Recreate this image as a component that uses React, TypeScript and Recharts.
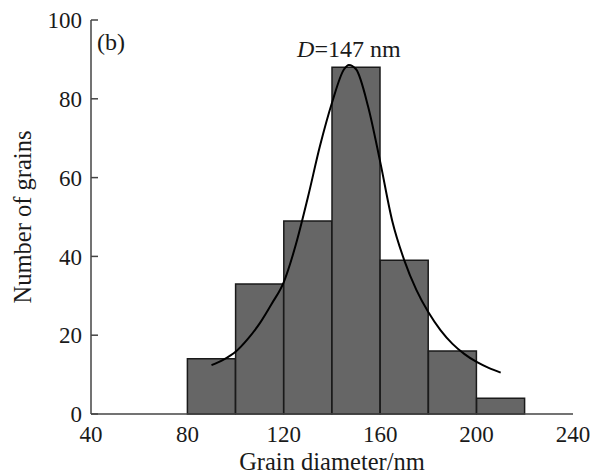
import React from 'react';
import {
  ComposedChart,
  Bar,
  Line,
  XAxis,
  YAxis,
  ReferenceDot,
} from 'recharts';

// histogram bins (centre of each 20 nm bin) and counts
const binCenters = [90, 110, 130, 150, 170, 190, 210];
const binCounts = [14, 33, 49, 88, 39, 16, 4];

// fitted distribution curve
const fitX = [90, 95, 100, 105, 110, 115, 120, 125, 130, 135, 140, 145, 147, 150, 155, 160, 165, 170, 175, 180, 185, 190, 195, 200, 205, 210];
const fitY = [12.4, 13.8, 15.8, 19, 23, 28, 33.5, 43, 55, 68, 79, 87.5, 88.6, 87.5, 78, 64, 49, 39, 31.5, 25.8, 21.3, 17.8, 15.2, 13.2, 11.7, 10.5];

const xTicks = [40, 80, 120, 160, 200, 240];
const yTicks = [0, 20, 40, 60, 80, 100];

const histData = binCenters.map((c, i) => ({ center: c, count: binCounts[i] }));
const fitData = fitX.map((x, i) => ({ x, fit: fitY[i] }));

const FONT = '"Liberation Serif", "DejaVu Serif", serif';
const AXIS_COLOR = '#444';
const TEXT_COLOR = '#1a1a1a';

export default function App() {
  return (
    <div style={{ position: 'absolute', left: 0, top: 0, width: 599, height: 476, background: '#fff' }}>
      <ComposedChart
        width={599}
        height={476}
        data={histData}
        margin={{ top: 20, right: 26, bottom: 0, left: 31 }}
        barCategoryGap={0}
        barGap={0}
        style={{ fontFamily: FONT }}
      >
        {/* top frame line; bars are placed on this axis */}
        <XAxis
          xAxisId="bins"
          orientation="top"
          type="number"
          dataKey="center"
          domain={[40, 240]}
          height={0}
          tick={false}
          tickLine={false}
          axisLine={{ stroke: AXIS_COLOR, strokeWidth: 1.5 }}
        />
        <XAxis
          xAxisId="fit"
          type="number"
          dataKey="x"
          domain={[40, 240]}
          ticks={xTicks}
          height={62}
          tickSize={0}
          tickMargin={12}
          tickLine={false}
          axisLine={{ stroke: AXIS_COLOR, strokeWidth: 1.5 }}
          tick={{ fill: TEXT_COLOR, fontSize: 23, fontFamily: FONT }}
          label={{
            content: ({ viewBox }: any) => (
              <text
                x={viewBox.x + viewBox.width / 2}
                y={viewBox.y + 56}
                textAnchor="middle"
                fill={TEXT_COLOR}
                fontSize={24.5}
                fontFamily={FONT}
              >
                Grain diameter/nm
              </text>
            ),
          }}
        />
        <YAxis
          type="number"
          domain={[0, 100]}
          ticks={yTicks}
          width={60}
          tickSize={-7}
          tickMargin={16}
          axisLine={{ stroke: AXIS_COLOR, strokeWidth: 1.5 }}
          tickLine={{ stroke: AXIS_COLOR, strokeWidth: 1.5 }}
          tick={{ fill: TEXT_COLOR, fontSize: 23, fontFamily: FONT }}
          label={{
            content: ({ viewBox }: any) => {
              const cy = viewBox.y + viewBox.height / 2;
              return (
                <text
                  x={31}
                  y={cy}
                  transform={`rotate(-90, 31, ${cy})`}
                  textAnchor="middle"
                  fill={TEXT_COLOR}
                  fontSize={24.5}
                  fontFamily={FONT}
                >
                  Number of grains
                </text>
              );
            },
          }}
        />
        {/* right frame line */}
        <YAxis
          yAxisId="frame"
          orientation="right"
          width={0}
          tick={false}
          tickLine={false}
          axisLine={{ stroke: AXIS_COLOR, strokeWidth: 1.5 }}
        />
        <Bar
          xAxisId="bins"
          dataKey="count"
          fill="#666666"
          stroke="#1a1a1a"
          strokeWidth={1.5}
          isAnimationActive={false}
        />
        <Line
          xAxisId="fit"
          data={fitData}
          dataKey="fit"
          type="monotone"
          stroke="#000"
          strokeWidth={2}
          dot={false}
          activeDot={false}
          isAnimationActive={false}
        />
        <ReferenceDot
          xAxisId="fit"
          x={42.5}
          y={92.4}
          r={0}
          ifOverflow="visible"
          label={{
            content: ({ viewBox }: any) => (
              <text x={viewBox.x} y={viewBox.y} fill={TEXT_COLOR} fontSize={24} fontFamily={FONT}>
                (b)
              </text>
            ),
          }}
        />
        <ReferenceDot
          xAxisId="fit"
          x={147}
          y={90.6}
          r={0}
          ifOverflow="visible"
          label={{
            content: ({ viewBox }: any) => (
              <text x={viewBox.x} y={viewBox.y} textAnchor="middle" fill={TEXT_COLOR} fontSize={24} fontFamily={FONT}>
                <tspan fontStyle="italic">D</tspan>
                <tspan>=147 nm</tspan>
              </text>
            ),
          }}
        />
      </ComposedChart>
    </div>
  );
}
